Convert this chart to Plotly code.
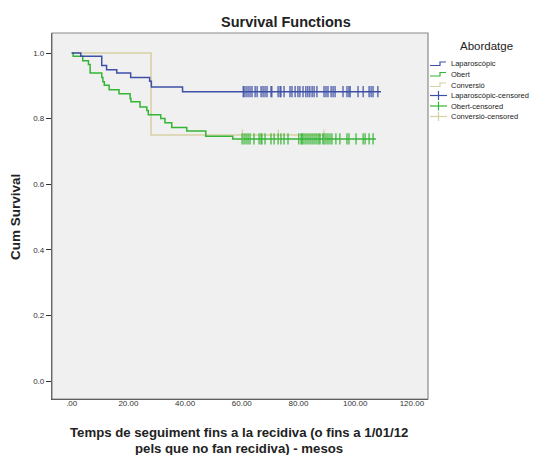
import plotly.graph_objects as go

# ---------------- data ----------------
groups = ["Laparoscòpic", "Obert", "Conversió"]

lap_times = [0, 3.2, 10.6, 12.3, 15.9, 20.8, 27.5, 28.1, 39.1]
lap_surv = [1.0, 0.990, 0.962, 0.949, 0.939, 0.925, 0.914, 0.896, 0.882]
lap_end = 109.1
lap_censored = [60.5, 60.8, 61.5, 62.2, 62.9, 63.6, 64.7, 65.4, 66.8, 67.5, 68.2, 68.9,
                70.3, 70.6, 72.8, 73.5, 73.8, 74.9, 77.0, 77.7, 78.8, 79.8, 80.5, 81.6,
                82.6, 83.3, 84.0, 84.8, 85.5, 86.5, 89.0, 89.7, 90.4, 91.5, 92.2, 92.9,
                95.7, 97.1, 97.8, 98.2, 101.0, 102.8, 104.9, 105.6, 106.3, 108.0]

obe_times = [0, 0.5, 3.9, 5.9, 6.5, 10.6, 11.0, 11.5, 13.2, 16.7, 20.6, 20.9, 24.1,
             26.5, 27.0, 31.4, 32.9, 35.3, 40.6, 47.3, 56.8]
obe_surv = [1.0, 0.990, 0.976, 0.965, 0.939, 0.925, 0.912, 0.902, 0.888, 0.876, 0.861,
            0.851, 0.835, 0.825, 0.812, 0.800, 0.787, 0.773, 0.762, 0.746, 0.738]
obe_end = 107.3
obe_censored = [60.1, 60.8, 61.5, 62.2, 62.9, 64.3, 66.1, 66.8, 67.1, 68.2, 70.3, 71.4,
                72.8, 73.8, 74.9, 76.3, 80.1, 80.9, 81.2, 81.6, 82.3, 83.0, 83.7, 84.4,
                85.1, 85.8, 86.5, 87.2, 87.6, 88.6, 89.0, 89.7, 90.4, 91.1, 91.8, 93.2,
                94.6, 97.1, 97.8, 100.3, 102.8, 103.5, 104.9, 106.3]

con_times = [0, 28.0]
con_surv = [1.0, 0.75]
con_end = 89.0
con_censored = [60.2, 72.9, 89.0]

x_tickvals = [0, 20, 40, 60, 80, 100, 120]
x_ticktext = [".00", "20.00", "40.00", "60.00", "80.00", "100.00", "120.00"]
y_tickvals = [0.0, 0.2, 0.4, 0.6, 0.8, 1.0]

colors = ["#3d50a6", "#35b535", "#d6d0a2"]

# ---------------- helpers ----------------
def surv_at(times, surv, t):
    v = surv[0]
    for ti, si in zip(times, surv):
        if ti <= t:
            v = si
    return v

W, H = 537, 455
L, R, T, B = 52, 428, 33, 399

def px(x):
    return (x - L) / (R - L)

def py(y):
    return (B - y) / (B - T)

FONT = "Liberation Sans, Arial, sans-serif"

fig = go.Figure()

series = [
    (lap_times, lap_surv, lap_end, lap_censored),
    (obe_times, obe_surv, obe_end, obe_censored),
    (con_times, con_surv, con_end, con_censored),
]

order = [2, 1, 0]
for i in order:
    times, surv, end, cens = series[i]
    fig.add_trace(go.Scatter(
        x=times + [end], y=surv + [surv[-1]],
        mode="lines", line=dict(color=colors[i], width=1.5, shape="hv"),
        name=groups[i], showlegend=False, hoverinfo="skip"))
for i in order:
    times, surv, end, cens = series[i]
    fig.add_trace(go.Scatter(
        x=cens, y=[surv_at(times, surv, t) for t in cens],
        mode="markers",
        marker=dict(symbol="line-ns", size=8, line=dict(color=colors[i], width=1.2)),
        name=groups[i] + "-censored", showlegend=False, hoverinfo="skip"))

shapes = []
annotations = []

shapes.append(dict(type="rect", xref="paper", yref="paper", x0=0, x1=1, y0=0, y1=1,
                   line=dict(color="#8a8a8a", width=1.2), layer="above"))

annotations.append(dict(text="Abordatge", xref="paper", yref="paper", x=px(486), y=py(46),
                        showarrow=False, font=dict(family=FONT, size=11.5, color="#222"),
                        xanchor="center", yanchor="middle"))
legend_labels = [g for g in groups] + [g + "-censored" for g in groups]
rows = [64, 74.5, 85, 95.5, 106, 116.5]
for k, lab in enumerate(legend_labels):
    yy = rows[k]
    c = colors[k % 3]
    if k < 3:
        path = "M {},{} L {},{} L {},{} L {},{}".format(
            px(430), py(yy + 1.5), px(440), py(yy + 1.5), px(440), py(yy - 2), px(446), py(yy - 2))
        shapes.append(dict(type="path", xref="paper", yref="paper", path=path,
                           line=dict(color=c, width=1.2)))
    else:
        shapes.append(dict(type="line", xref="paper", yref="paper", x0=px(430), x1=px(447),
                           y0=py(yy), y1=py(yy), line=dict(color=c, width=1.2)))
        shapes.append(dict(type="line", xref="paper", yref="paper", x0=px(438.5), x1=px(438.5),
                           y0=py(yy - 4.5), y1=py(yy + 4.5), line=dict(color=c, width=1.2)))
    annotations.append(dict(text=lab, xref="paper", yref="paper", x=px(449), y=py(yy),
                            showarrow=False, font=dict(family=FONT, size=7.5, color="#222"),
                            xanchor="left", yanchor="middle"))

annotations.append(dict(text="<b>Survival Functions</b>", xref="paper", yref="paper",
                        x=px(285.5), y=py(22), showarrow=False,
                        font=dict(family=FONT, size=14.5, color="#222"),
                        xanchor="center", yanchor="middle"))
annotations.append(dict(text="<b>Temps de seguiment fins a la recidiva (o fins a 1/01/12</b>",
                        xref="paper", yref="paper", x=px(238.5), y=py(432.5), showarrow=False,
                        font=dict(family=FONT, size=13.2, color="#222"),
                        xanchor="center", yanchor="middle"))
annotations.append(dict(text="<b>pels que no fan recidiva) - mesos</b>",
                        xref="paper", yref="paper", x=px(238.5), y=py(448.5), showarrow=False,
                        font=dict(family=FONT, size=13.2, color="#222"),
                        xanchor="center", yanchor="middle"))
annotations.append(dict(text="<b>Cum Survival</b>", xref="paper", yref="paper",
                        x=px(15), y=py(217), showarrow=False, textangle=-90,
                        font=dict(family=FONT, size=13.5, color="#222"),
                        xanchor="center", yanchor="middle"))

x_per_unit = 56.7 / 20.0
x0_px = 71.7
y_per_unit = 328.0
y1_px = 53.0

fig.update_layout(
    width=W, height=H,
    margin=dict(l=L, r=W - R, t=T, b=H - B, pad=0),
    paper_bgcolor="white", plot_bgcolor="#f0f0f0",
    showlegend=False,
    font=dict(family=FONT, size=8, color="#333"),
    shapes=shapes, annotations=annotations,
    xaxis=dict(range=[-(x0_px - L) / x_per_unit, (R - x0_px) / x_per_unit],
               tickvals=x_tickvals, ticktext=x_ticktext, ticks="", ticklabelstandoff=-4,
               showgrid=False, zeroline=False, showline=True, linecolor="#333", linewidth=1.2,
               tickfont=dict(family=FONT, size=8, color="#333")),
    yaxis=dict(range=[-(B - (y1_px + y_per_unit)) / y_per_unit, 1 + (y1_px - T) / y_per_unit],
               tickvals=y_tickvals, tickformat=".1f", ticks="outside", ticklen=5,
               tickcolor="#333", tickwidth=1,
               showgrid=False, zeroline=False, showline=True, linecolor="#333", linewidth=1.2,
               tickfont=dict(family=FONT, size=8, color="#333")),
)

fig.write_html("out.html", config={"displayModeBar": False},
               post_script="document.body.style.margin='0';document.body.style.overflow='hidden';")
